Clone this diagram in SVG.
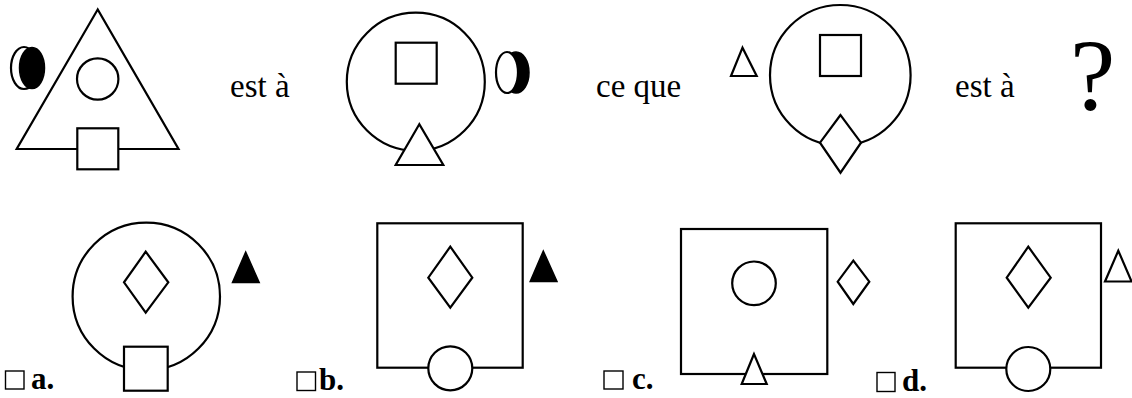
<svg xmlns="http://www.w3.org/2000/svg" width="1132" height="398" viewBox="0 0 1132 398">
<style>
.s{fill:#fff;stroke:#000;stroke-width:2.2;stroke-linejoin:miter}
.f{fill:#000;stroke:#000;stroke-width:1.5}
.cb{fill:#fff;stroke:#000;stroke-width:1.4}
text{font-family:'Liberation Serif','Times New Roman',serif;fill:#000}
.t{font-size:33px}
.q{font-size:102px}
.l{font-size:31px;font-weight:bold}
</style>
<rect width="1132" height="398" fill="#fff"/>
<g id="fig1">
<polygon class="s" points="97.7,9.5 16.7,149 178.5,149"/>
<circle class="s" cx="97.7" cy="79" r="20.7"/>
<rect class="s" x="77.3" y="128.3" width="41" height="41"/>
<ellipse class="s" cx="24" cy="68" rx="13" ry="21"/>
<ellipse class="f" cx="32" cy="68" rx="12.5" ry="20.5"/>
</g>
<g id="fig2">
<circle class="s" cx="415.8" cy="81.7" r="69"/>
<rect class="s" x="395.7" y="42.7" width="41" height="41"/>
<polygon class="s" points="419.3,124.3 395.7,165 443.3,165"/>
<ellipse class="f" cx="516" cy="72.5" rx="13" ry="20.5"/>
<ellipse class="s" cx="507" cy="72.5" rx="11" ry="20.5"/>
</g>
<g id="fig3">
<polygon class="s" points="742.5,47.7 731,76 756.7,76"/>
<circle class="s" cx="840.3" cy="75.3" r="70.3"/>
<rect class="s" x="820" y="35" width="41" height="41"/>
<polygon class="s" points="840.5,115 820,142.7 840.5,172.7 861,142.7"/>
</g>
<g id="words">
<text class="t" x="230" y="97">est à</text>
<text class="t" x="596" y="97">ce que</text>
<text class="t" x="955" y="97">est à</text>
<text class="q" x="1070" y="110">?</text>
</g>
<g id="optA">
<circle class="s" cx="146.3" cy="296.4" r="73.7"/>
<polygon class="s" points="145.7,251.7 124,282.3 145.7,312.7 168.3,282.3"/>
<rect class="s" x="124" y="346.7" width="43.7" height="44"/>
<polygon class="f" points="245.7,252 232.5,282.5 259.2,282.5"/>
<rect class="cb" x="5.5" y="371" width="18.5" height="18"/>
<text class="l" x="31" y="389">a.</text>
</g>
<g id="optB">
<rect class="s" x="377.3" y="223.3" width="145.4" height="144.4"/>
<polygon class="s" points="450.3,246.7 428.3,277.7 450.3,307.7 472.3,277.7"/>
<circle class="s" cx="450.3" cy="368.3" r="22"/>
<polygon class="f" points="543.3,251 530.2,281.5 557,281.5"/>
<rect class="cb" x="297" y="372" width="18.5" height="18.5"/>
<text class="l" x="319" y="390">b.</text>
</g>
<g id="optC">
<rect class="s" x="681" y="229" width="146.3" height="145"/>
<circle class="s" cx="754" cy="283.3" r="21.8"/>
<polygon class="s" points="754,354 741.7,384 766.7,384"/>
<polygon class="s" points="853.3,260.7 837.7,281.7 853.3,304 869.3,281.7"/>
<rect class="cb" x="604" y="371" width="19" height="18"/>
<text class="l" x="632" y="389">c.</text>
</g>
<g id="optD">
<rect class="s" x="955.7" y="223.3" width="145.3" height="144.4"/>
<polygon class="s" points="1028.3,246.7 1006.7,277.7 1028.3,307.7 1050.7,277.7"/>
<circle class="s" cx="1028.3" cy="369" r="22"/>
<polygon class="s" points="1118.3,250.7 1105,281.5 1131.6,281.5"/>
<rect class="cb" x="877" y="372.5" width="18" height="19"/>
<text class="l" x="902" y="391">d.</text>
</g>
</svg>
